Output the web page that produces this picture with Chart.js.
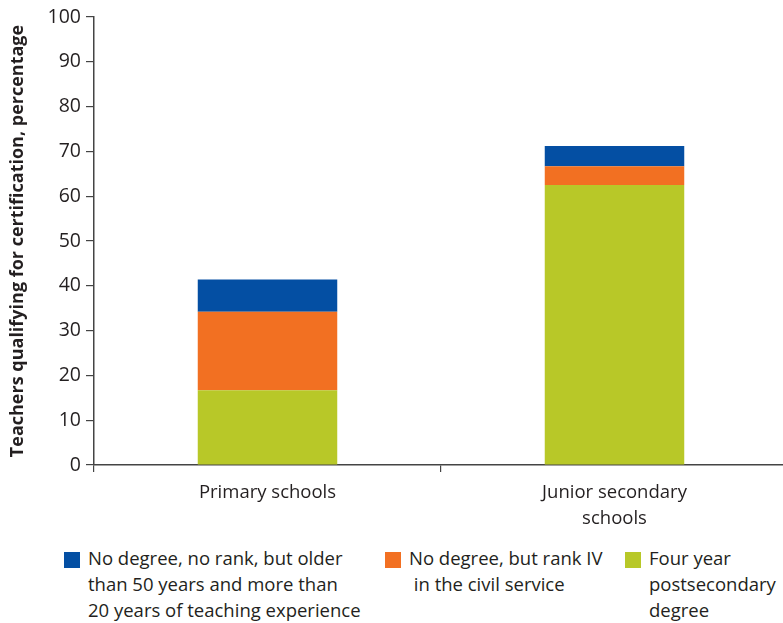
<!DOCTYPE html>
<html>
<head>
<meta charset="utf-8">
<script src="https://cdn.jsdelivr.net/npm/chart.js@4/dist/chart.umd.min.js"></script>
<style>
  html, body { margin: 0; padding: 0; background: #fff; width: 783px; height: 623px; overflow: hidden; }
  #wrap { position: absolute; left: 0; top: 0; width: 788px; height: 540px; }
  .legend { position: absolute; top: 545px; left: 0; width: 783px; height: 78px; font-family: "Open Sans", sans-serif; font-size: 18.5px; color: #231f20; }
  .item { position: absolute; top: 0; }
  .box { position: absolute; top: 7px; width: 16px; height: 16px; }
  .txt { position: absolute; top: 0; line-height: 26px; white-space: nowrap; }
</style>
</head>
<body>
<div id="wrap"><canvas id="c"></canvas></div>
<div class="legend" id="legend"></div>
<script>
const categories = [["Primary schools"], ["Junior secondary", "schools"]];
const seriesNames = [
  "Four year postsecondary degree",
  "No degree, but rank IV in the civil service",
  "No degree, no rank, but older than 50 years and more than 20 years of teaching experience"
];
const fourYearDegree = [16.7, 62.5];
const rankIV = [17.5, 4.2];
const olderExperienced = [7.2, 4.5];
const yTicks = [0, 10, 20, 30, 40, 50, 60, 70, 80, 90, 100];
const colors = ["#b8c828", "#f27022", "#044fa3"];
const legendLines = [
  ["No degree, no rank, but older", "than 50 years and more than", "20 years of teaching experience"],
  ["No degree, but rank IV", " in the civil service"],
  ["Four year", "postsecondary", "degree"]
];

const textColor = "#231f20";
const axisColor = "#444";
const font = { family: "'Open Sans', sans-serif", size: 18.5, lineHeight: "26px" };

new Chart(document.getElementById("c"), {
  type: "bar",
  data: {
    labels: categories,
    datasets: [
      { label: seriesNames[0], data: fourYearDegree, backgroundColor: colors[0] },
      { label: seriesNames[1], data: rankIV, backgroundColor: colors[1] },
      { label: seriesNames[2], data: olderExperienced, backgroundColor: colors[2] }
    ]
  },
  options: {
    responsive: true,
    maintainAspectRatio: false,
    animation: false,
    layout: { padding: { top: 17, right: 0, left: 0, bottom: 0 } },
    datasets: { bar: { barPercentage: 0.402, categoryPercentage: 1 } },
    plugins: { legend: { display: false }, tooltip: { enabled: false } },
    scales: {
      x: {
        stacked: true,
        offset: true,
        grid: { offset: true, drawOnChartArea: false, drawTicks: true, tickLength: 7, color: axisColor, lineWidth: 1.2 },
        border: { display: true, color: axisColor, width: 1.5 },
        ticks: { color: textColor, font: font, padding: 8, maxRotation: 0, autoSkip: false },
        afterFit: (s) => { s.height = 75; }
      },
      y: {
        stacked: true,
        min: 0,
        max: 100,
        afterBuildTicks: (s) => { s.ticks = yTicks.map(v => ({ value: v })); },
        grid: { drawOnChartArea: false, drawTicks: true, tickLength: 8, color: axisColor, lineWidth: 1.2 },
        border: { display: true, color: axisColor, width: 1.5 },
        ticks: { color: textColor, font: { family: "'Open Sans', sans-serif", size: 19.5 }, padding: 5 },
        title: {
          display: true,
          text: "Teachers qualifying for certification, percentage",
          color: textColor,
          font: { family: "'Open Sans', sans-serif", size: 18, weight: "bold" },
          padding: { top: 7, bottom: 0 }
        },
        afterFit: (s) => { s.width = 94; }
      }
    }
  }
});

// HTML legend built from the series (order as in reference: blue, orange, green)
const legendOrder = [2, 1, 0];
const legendX = [64, 385, 625];
const leg = document.getElementById("legend");
legendOrder.forEach((si, i) => {
  const item = document.createElement("div");
  item.className = "item";
  item.style.left = legendX[i] + "px";
  const box = document.createElement("div");
  box.className = "box";
  box.style.background = colors[si];
  box.style.left = "0px";
  const txt = document.createElement("div");
  txt.className = "txt";
  txt.style.left = "24px";
  txt.innerHTML = legendLines[i].map(l => l.replace(/ /g, "&nbsp;")).join("<br>");
  item.appendChild(box);
  item.appendChild(txt);
  leg.appendChild(item);
});
</script>
</body>
</html>
